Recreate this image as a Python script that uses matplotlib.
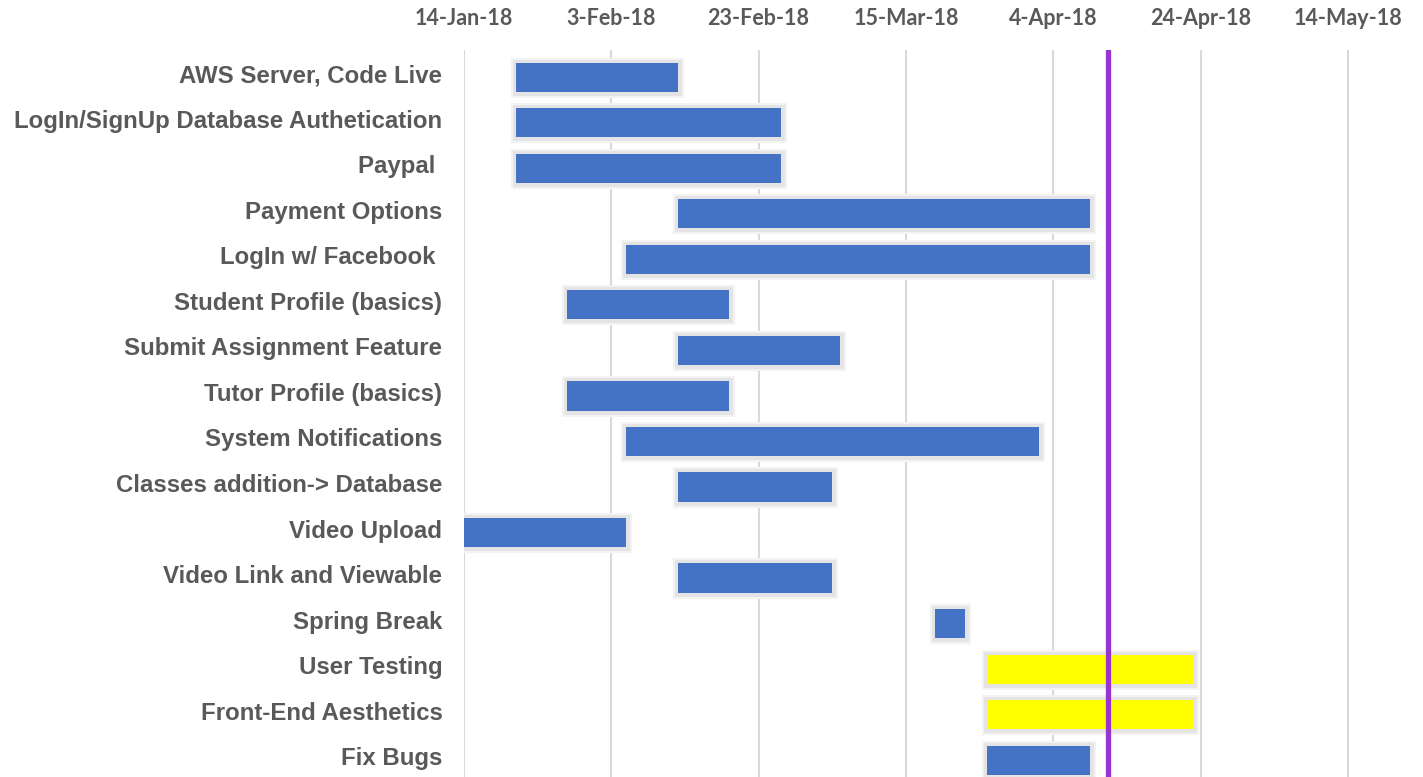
import datetime as dt

import matplotlib
matplotlib.use("Agg")
import matplotlib.pyplot as plt
import matplotlib.dates as mdates
import matplotlib.patheffects as pe
import matplotlib.transforms as mtransforms

tasks = [
    "AWS Server, Code Live",
    "LogIn/SignUp Database Authetication",
    "Paypal ",
    "Payment Options",
    "LogIn w/ Facebook ",
    "Student Profile (basics)",
    "Submit Assignment Feature",
    "Tutor Profile (basics)",
    "System Notifications",
    "Classes addition-> Database",
    "Video Upload",
    "Video Link and Viewable",
    "Spring Break",
    "User Testing",
    "Front-End Aesthetics",
    "Fix Bugs",
]
starts = [
    "2018-01-21", "2018-01-21", "2018-01-21", "2018-02-12", "2018-02-05",
    "2018-01-28", "2018-02-12", "2018-01-28", "2018-02-05", "2018-02-12",
    "2018-01-14", "2018-02-12", "2018-03-19", "2018-03-26", "2018-03-26",
    "2018-03-26",
]
ends = [
    "2018-02-12", "2018-02-26", "2018-02-26", "2018-04-09", "2018-04-09",
    "2018-02-19", "2018-03-06", "2018-02-19", "2018-04-02", "2018-03-05",
    "2018-02-05", "2018-03-05", "2018-03-23", "2018-04-23", "2018-04-23",
    "2018-04-09",
]
highlight = ["User Testing", "Front-End Aesthetics"]
today = "2018-04-11 12:00"
tick_dates = ["2018-01-14", "2018-02-03", "2018-02-23", "2018-03-15",
              "2018-04-04", "2018-04-24", "2018-05-14"]

BLUE = "#4472C4"
YELLOW = "#FFFF00"
TEXT = "#595959"


def to_num(s):
    return mdates.date2num(dt.datetime.fromisoformat(s))


fig = plt.figure(figsize=(14.23, 7.77), dpi=100)
ax = fig.add_axes([464 / 1423, 0.0, 1 - 464 / 1423, 1 - 50 / 777])

x0 = to_num("2018-01-14")
ax.set_xlim(x0, x0 + 130.2)
ax.set_ylim(15.37, -0.6)

# soft grey glow round each bar
glow = [pe.Stroke(linewidth=8, foreground="#f3f3f3"),
        pe.Stroke(linewidth=5, foreground="#e4e4e4"),
        pe.Normal()]
for i, (t, s, e) in enumerate(zip(tasks, starts, ends)):
    color = YELLOW if t in highlight else BLUE
    bar = ax.barh(i, to_num(e) - to_num(s), left=to_num(s), height=0.64,
                  color=color, zorder=3)
    for p in bar:
        p.set_path_effects(glow)

ax.axvline(to_num(today), color="#9933CC", linewidth=3.8, zorder=4)

ax.set_yticks(range(len(tasks)))
ax.set_yticklabels(tasks, fontsize=17.3, fontweight="bold", color=TEXT,
                   family="Liberation Sans")
ax.set_xticks([to_num(d) for d in tick_dates])
ax.xaxis.set_major_formatter(mdates.DateFormatter("%-d-%b-%y"))
ax.xaxis.tick_top()
ax.tick_params(axis="x", length=0, pad=15, labelsize=15.5, labelcolor=TEXT)
ax.tick_params(axis="y", length=0, pad=15.5)
for lab in ax.get_xticklabels():
    lab.set_fontweight("bold")
    lab.set_family("Lato")
# labels sit a little above the bar centres
up = mtransforms.ScaledTranslation(0, 4 / 100, fig.dpi_scale_trans)
for lab in ax.get_yticklabels():
    lab.set_transform(lab.get_transform() + up)

ax.grid(axis="x", color="#d9d9d9", linewidth=1.5, zorder=0)
ax.set_axisbelow(True)
for sp in ax.spines.values():
    sp.set_visible(False)

fig.savefig("out.png", dpi=100)
